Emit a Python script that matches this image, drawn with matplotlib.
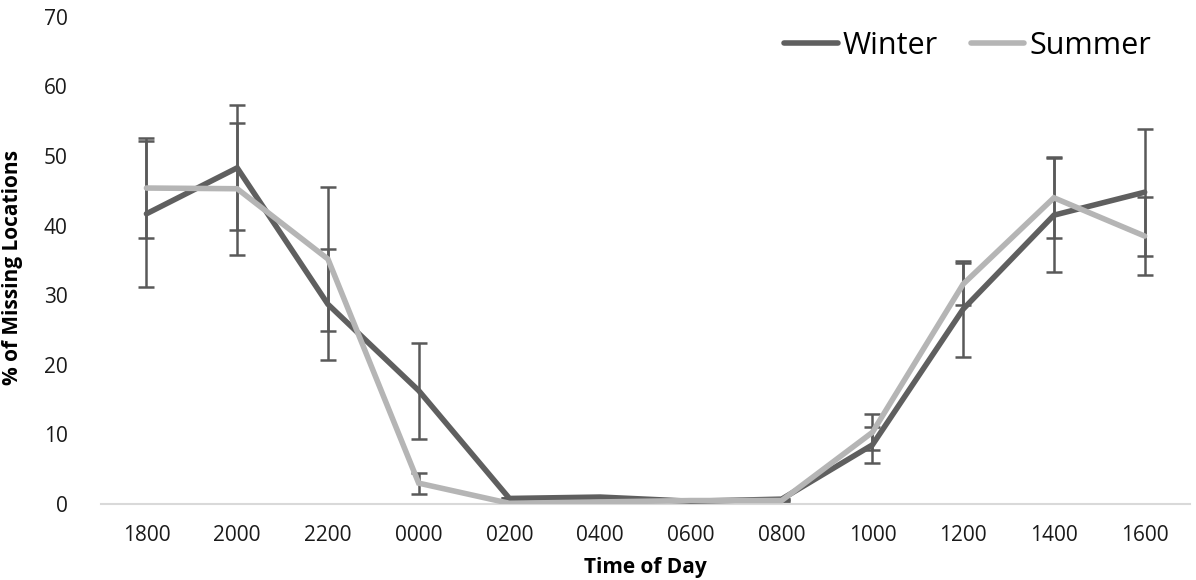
import matplotlib.pyplot as plt
import numpy as np

plt.rcParams['font.family'] = ['Open Sans', 'DejaVu Sans']

# data
times = ["1800", "2000", "2200", "0000", "0200", "0400",
         "0600", "0800", "1000", "1200", "1400", "1600"]
winter = [41.7, 48.3, 28.7, 16.3, 0.8, 1.0, 0.4, 0.7, 8.5, 28.0, 41.5, 44.8]
winter_err = [10.5, 9.0, 8.0, 6.9, 0.0, 0.0, 0.2, 0.0, 2.6, 6.9, 8.2, 9.1]
summer = [45.4, 45.3, 35.2, 3.0, 0.1, 0.3, 0.5, 0.5, 10.3, 31.6, 44.0, 38.5]
summer_err = [7.2, 9.5, 10.3, 1.5, 0.0, 0.0, 0.1, 0.0, 2.6, 3.0, 5.8, 5.6]

fig = plt.figure(figsize=(11.96, 5.8), dpi=100)
ax = fig.add_axes([0.0845, 0.131, 0.9105, 0.840])

x = np.arange(len(times))
err_col = "#595959"
ax.errorbar(x, winter, yerr=winter_err, fmt="none", ecolor=err_col,
            elinewidth=1.8, capsize=6, capthick=1.8, zorder=2)
ax.errorbar(x, summer, yerr=summer_err, fmt="none", ecolor=err_col,
            elinewidth=1.8, capsize=6, capthick=1.8, zorder=2)
ax.plot(x, winter, color="#5f5f5f", lw=4, label="Winter", zorder=3,
        solid_capstyle="round", solid_joinstyle="miter")
ax.plot(x, summer, color="#b5b5b5", lw=4, label="Summer", zorder=4,
        solid_capstyle="round", solid_joinstyle="miter")

ax.set_xlim(-0.5, len(times) - 0.5)
ax.set_ylim(0, 70)
ax.set_yticks(range(0, 71, 10))
ax.set_xticks(x)
ax.set_xticklabels(times)
ax.tick_params(length=0, labelsize=15, colors="#1a1a1a")
ax.tick_params(axis="x", pad=15)
ax.tick_params(axis="y", pad=24)

for s in ["top", "right", "left"]:
    ax.spines[s].set_visible(False)
ax.spines["bottom"].set_color("#d9d9d9")
ax.spines["bottom"].set_linewidth(1.5)

ax.set_xlabel("Time of Day", fontsize=15, fontweight="bold")
ax.set_ylabel("% of Missing Locations", fontsize=15, fontweight="bold")
ax.xaxis.set_label_coords(0.5, -0.109)
ax.yaxis.set_label_coords(-0.0716, 0.485)

ax.legend(loc="center right", bbox_to_anchor=(0.975, 0.921),
          bbox_transform=fig.transFigure, ncol=2, frameon=False,
          fontsize=22, handlelength=1.75, handletextpad=0.15,
          columnspacing=1.1, borderpad=0)

fig.savefig("out.png", dpi=100)
